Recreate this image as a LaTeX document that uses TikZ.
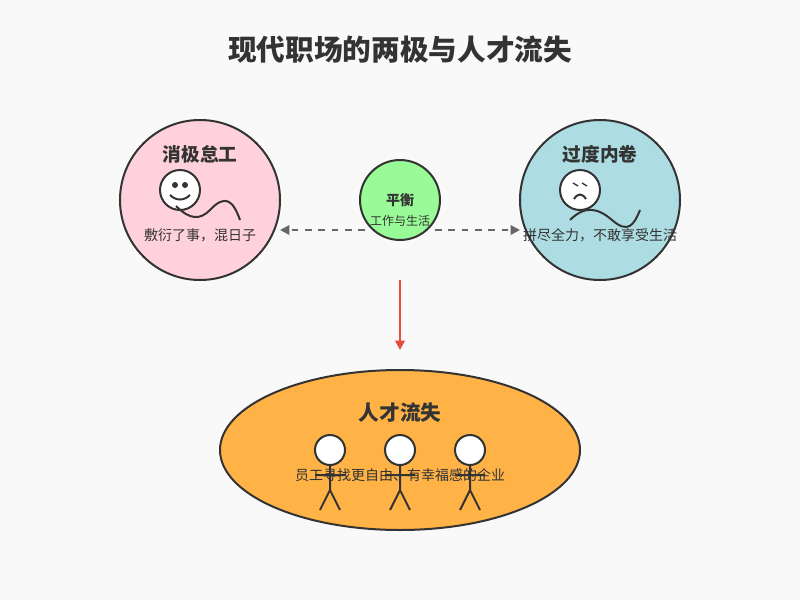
\documentclass[tikz,border=0pt]{standalone}
\usepackage{fontspec}
\setmainfont{Noto Sans CJK SC}
\usetikzlibrary{arrows.meta}
\definecolor{bg}{HTML}{F9F9F9}
\definecolor{ln}{HTML}{333333}
\definecolor{pinkc}{HTML}{FFD1DC}
\definecolor{bluec}{HTML}{ADDDE2}
\definecolor{greenc}{HTML}{98FB98}
\definecolor{orangec}{HTML}{FFB347}
\definecolor{grayc}{HTML}{666666}
\definecolor{redc}{HTML}{E74C3C}
\begin{document}
\begin{tikzpicture}[x=0.75pt,y=-0.75pt,
  bub/.style={circle,draw=ln,line width=1.5pt,inner sep=0},
  fig/.style={draw=ln,line width=1.5pt},
  txt/.style={text=ln,font=\fontsize{10.5pt}{12pt}\selectfont,inner sep=0}]
\fill[bg] (0,0) rectangle (800,600);
\node[text=ln,font=\bfseries\fontsize{21.5pt}{24pt}\selectfont] (title) at (400,50) {现代职场的两极与人才流失};
\node[bub,fill=pinkc,minimum size=120pt] (neg) at (200,200) {};
\node[bub,fill=bluec,minimum size=120pt] (over) at (600,200) {};
\node[bub,fill=greenc,minimum size=60pt] (bal) at (400,200) {};
\draw[ln,line width=1.5pt,fill=orangec] (400,450) ellipse [x radius=180, y radius=80];
\node[text=ln,font=\bfseries\fontsize{14pt}{16pt}\selectfont] (negt) at (200,154) {消极怠工};
\node[text=ln,font=\bfseries\fontsize{14pt}{16pt}\selectfont] (overt) at (600,154) {过度内卷};
\node[text=ln,font=\bfseries\fontsize{10.5pt}{12pt}\selectfont] (balt) at (400,200) {平衡};
\node[text=ln,font=\fontsize{9pt}{11pt}\selectfont] (bals) at (400,221) {工作与生活};
\node[text=ln,font=\bfseries\fontsize{15.5pt}{18pt}\selectfont] (lost) at (400,413) {人才流失};
% left face
\draw[fig,fill=white] (180,190) circle (20);
\fill[ln] (175,185) circle (3) (185,185) circle (3);
\draw[fig] (170,195) .. controls (176,201) and (184,201) .. (190,195);
\draw[fig] (176,206) .. controls (190,220) and (200,220) .. (210,210) .. controls (225,194) and (233,200) .. (240,220);
% right face
\draw[fig,fill=white] (580,190) circle (20);
\draw[ln,line width=1pt] (573,183)--(578,186) (582,183)--(587,186);
\draw[fig] (574,199) .. controls (578,193) and (582,193) .. (586,199);
\draw[fig] (570,220) .. controls (585,205) and (598,208) .. (612,220) .. controls (628,234) and (634,225) .. (640,210);
\node[txt] (negs) at (200,235) {敷衍了事，混日子};
\node[txt] (overs) at (600,235) {拼尽全力，不敢享受生活};
% stick figures
\foreach \x in {330,400,470}{
  \draw[fig,fill=white] (\x,450) circle (15);
  \draw[fig] (\x,465)--(\x,490) (\x-15,475)--(\x+15,475) (\x,490)--(\x-10,510) (\x,490)--(\x+10,510);
}
\node[txt] (losts) at (400,475) {员工寻找更自由、有幸福感的企业};
\coordinate (la) at (365,230); \coordinate (ra) at (435,230);
\coordinate (lt) at (280,230); \coordinate (rt) at (520,230);
\draw[grayc,line width=1.5pt,dash pattern=on 5pt off 5pt,-{Triangle[length=7pt,width=7pt]}] (la)--(lt);
\draw[grayc,line width=1.5pt,dash pattern=on 5pt off 5pt,-{Triangle[length=7pt,width=7pt]}] (ra)--(rt);
\coordinate (rs) at (400,280); \coordinate (re) at (400,350);
\draw[redc,line width=2pt,-{Triangle[length=7pt,width=7pt]}] (rs)--(re);
\end{tikzpicture}
\end{document}
